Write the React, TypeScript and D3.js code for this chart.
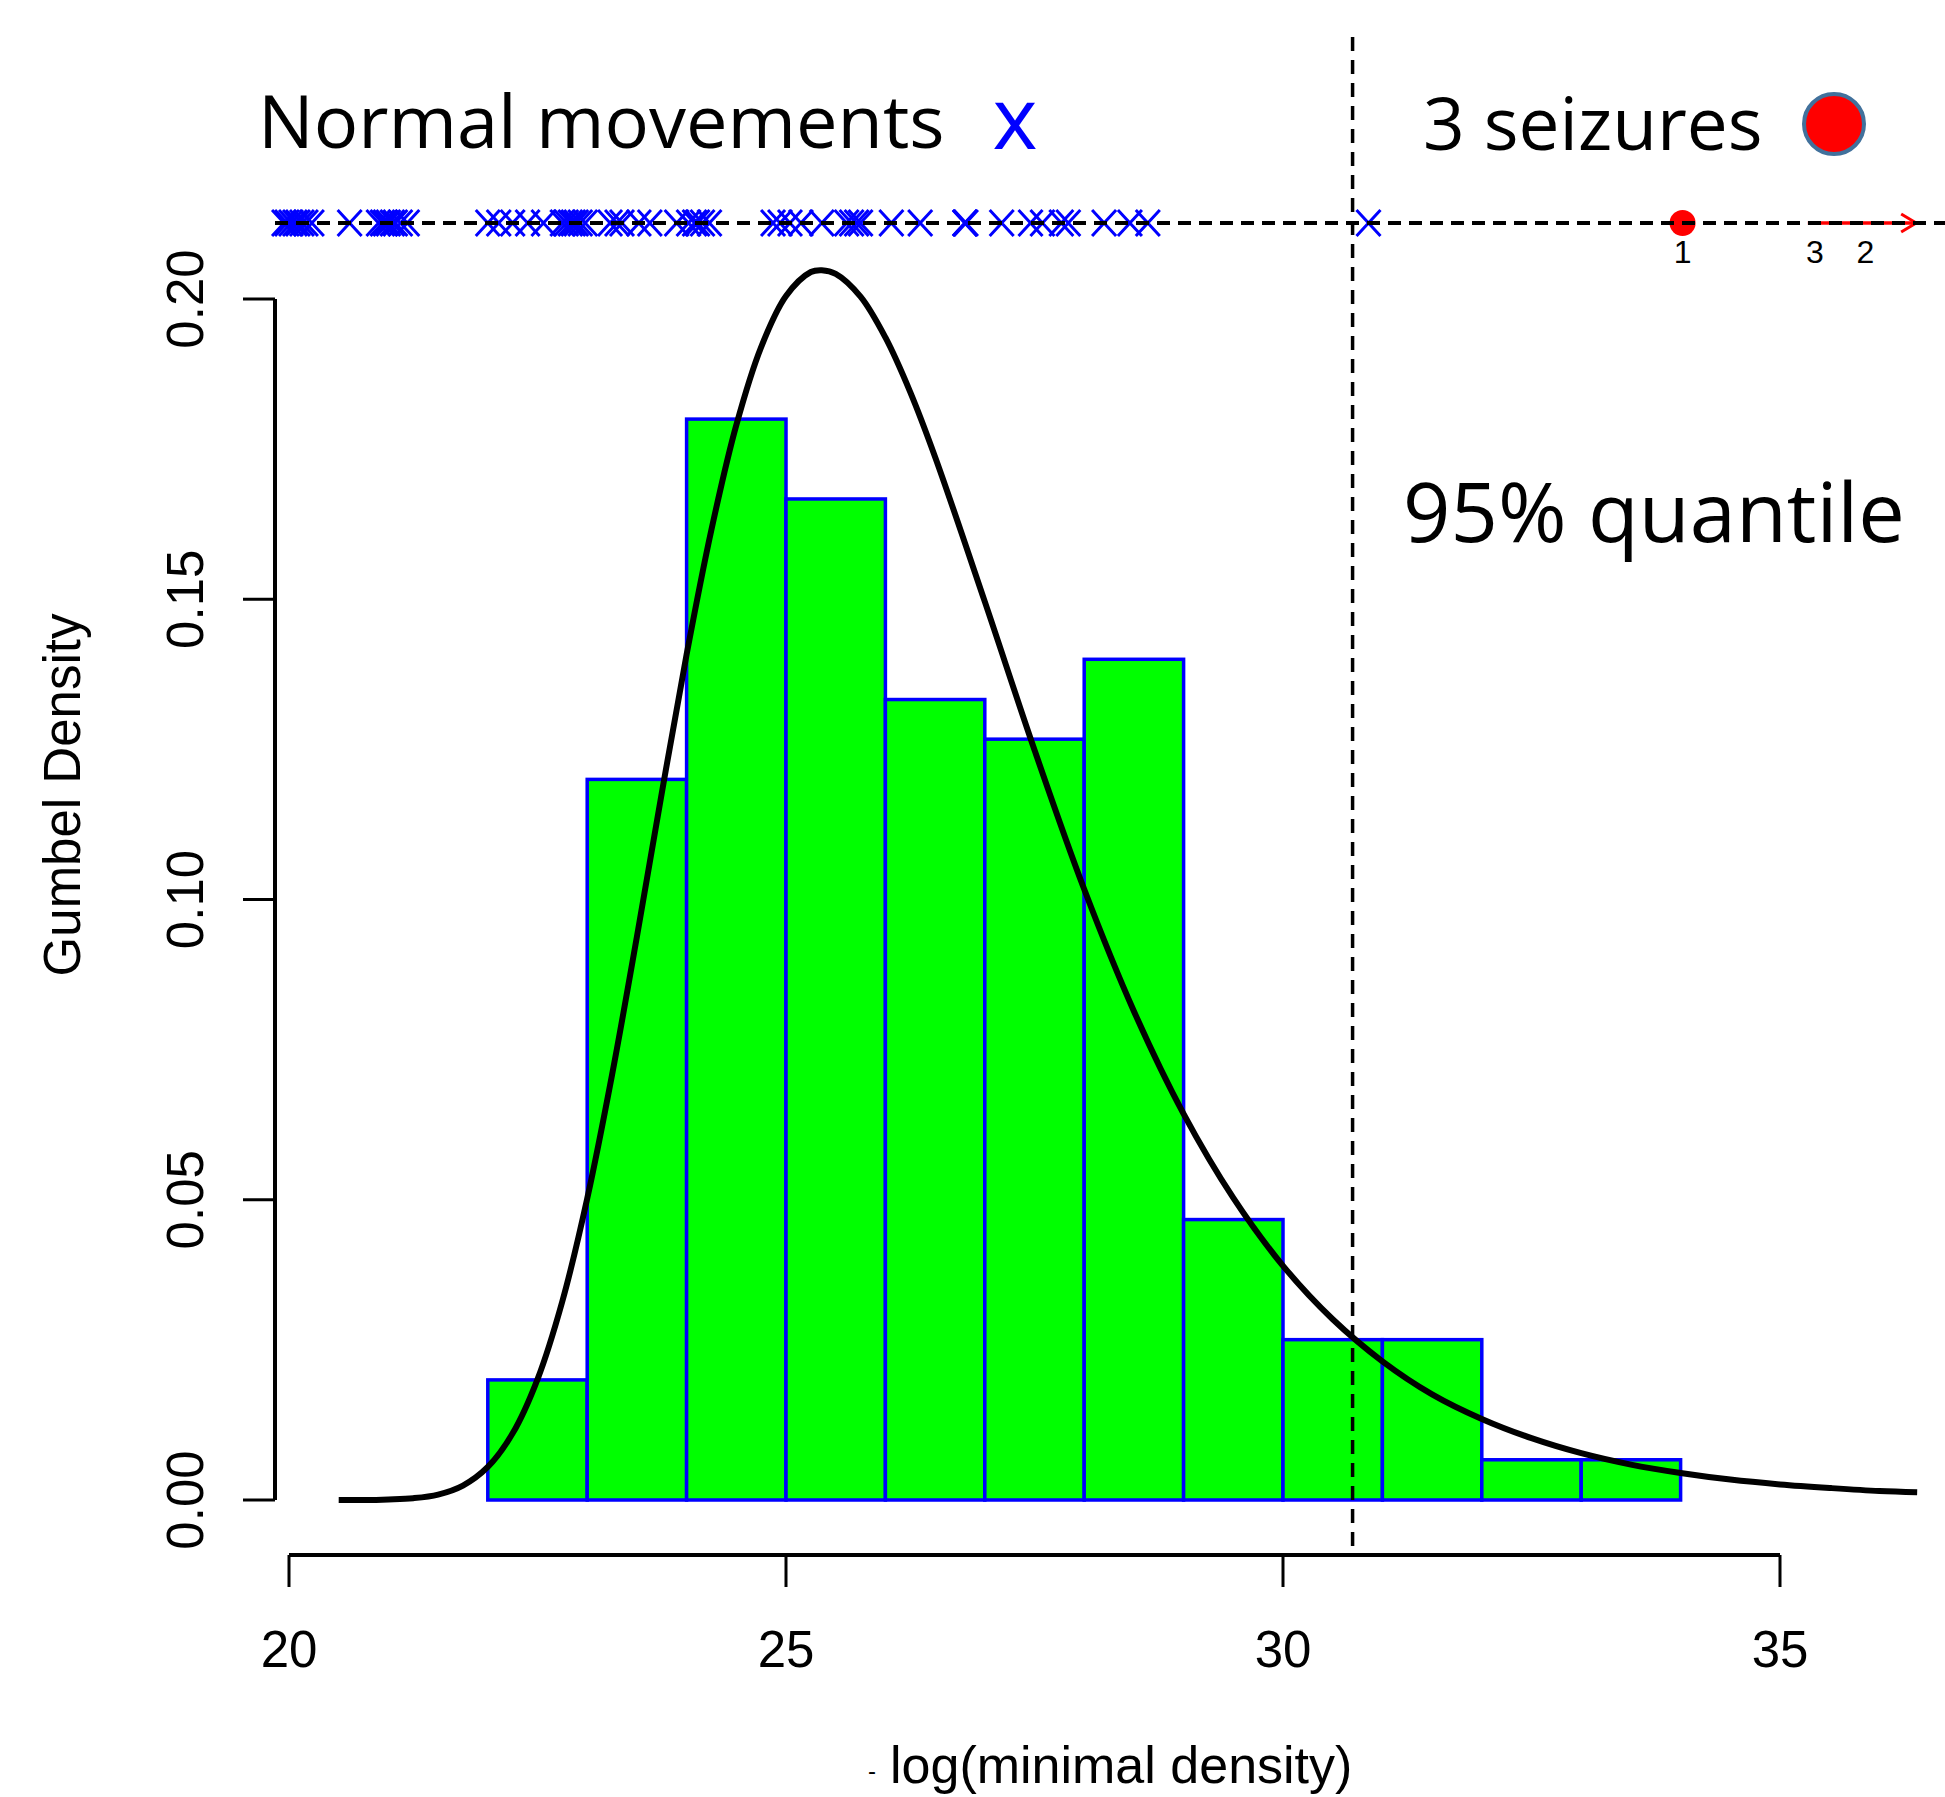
import React, { useEffect, useRef } from 'react';
import * as d3 from 'd3';

// histogram (density per unit bin)
const binStarts = [22, 23, 24, 25, 26, 27, 28, 29, 30, 31, 32, 33];
const binDensity = [0.02, 0.12, 0.18, 0.1667, 0.1333, 0.1267, 0.14, 0.0467, 0.0267, 0.0267, 0.0067, 0.0067];

// fitted Gumbel density
const curveX = [20.5, 20.75, 21, 21.25, 21.5, 21.75, 22, 22.25, 22.5, 22.75, 23, 23.25, 23.5, 23.75, 24, 24.25, 24.5, 24.75, 25, 25.25, 25.36, 25.5, 25.75, 26, 26.25, 26.5, 27, 27.5, 28, 28.5, 29, 29.5, 30, 30.5, 31, 31.5, 32, 32.5, 33, 33.5, 34, 34.5, 35, 35.5, 36, 36.38];
const curveY = [0.0, 0.0, 0.0001, 0.0003, 0.0009, 0.0024, 0.0055, 0.0111, 0.0201, 0.0331, 0.0502, 0.0708, 0.0938, 0.1177, 0.1408, 0.1616, 0.179, 0.192, 0.2005, 0.2045, 0.2048, 0.2042, 0.2004, 0.1936, 0.1845, 0.1737, 0.1496, 0.1249, 0.1017, 0.0814, 0.0643, 0.0503, 0.039, 0.0301, 0.0231, 0.0176, 0.0135, 0.0103, 0.0078, 0.0059, 0.0045, 0.0034, 0.0026, 0.002, 0.0015, 0.0013];

// normal movements (blue crosses on the top strip)
const normalMoves = [19.95, 19.98, 20.02, 20.06, 20.09, 20.13, 20.17, 20.23, 20.61, 20.9, 20.94, 20.97, 21.0, 21.04, 21.07, 21.12, 21.19,
  22.0, 22.11, 22.25, 22.4, 22.56, 22.75, 22.79, 22.83, 22.86, 22.89, 22.93, 22.98, 23.23, 23.3, 23.35, 23.52, 23.63,
  23.9, 24.02, 24.08, 24.11, 24.16, 24.23, 24.87, 24.94, 25.04, 25.15, 25.36, 25.61, 25.66, 25.71, 25.75, 26.06, 26.35,
  26.8, 26.8, 26.81, 27.17, 27.46, 27.58, 27.77, 27.84, 28.2, 28.46, 28.64, 30.86];

// seizures: one on scale, two beyond (arrow)
const seizureOn = [{ label: '1', x: 34.02 }];
const seizureOff = [{ label: '3', x: 35.35 }, { label: '2', x: 35.86 }];
const arrowRange = [35.28, 36.37];

const quantile95 = 30.7;
const xTicks = [20, 25, 30, 35];
const yTicks = [0, 0.05, 0.1, 0.15, 0.2];

const AXIS_FONT = '"Liberation Sans", Arial, sans-serif';
const NOTE_FONT = '"Open Sans", "Noto Sans", sans-serif';

export default function App() {
  const ref = useRef<SVGSVGElement>(null);

  useEffect(() => {
    const svg = d3.select(ref.current);
    svg.selectAll('*').remove();

    const x = d3.scaleLinear().domain([20, 35]).range([289, 1780]);
    const y = d3.scaleLinear().domain([0, 0.2]).range([1500, 299]);
    const stripY = 223;

    // histogram bars
    svg.append('g')
      .selectAll('rect')
      .data(binStarts)
      .join('rect')
      .attr('x', (d) => x(d))
      .attr('y', (d, i) => y(binDensity[i]))
      .attr('width', (d) => x(d + 1) - x(d))
      .attr('height', (d, i) => y(0) - y(binDensity[i]))
      .attr('fill', '#00ff00')
      .attr('stroke', '#0000ff')
      .attr('stroke-width', 3.5);

    // gumbel curve
    const pts = curveX.map((v, i) => [v, curveY[i]] as [number, number]);
    svg.append('path')
      .datum(pts)
      .attr('fill', 'none')
      .attr('stroke', '#000')
      .attr('stroke-width', 6)
      .attr('d', d3.line<[number, number]>()
        .x((d) => x(d[0]))
        .y((d) => y(d[1]))
        .curve(d3.curveCatmullRom));

    // y axis
    const ya = svg.append('g');
    ya.append('line')
      .attr('x1', 275).attr('x2', 275)
      .attr('y1', y(0)).attr('y2', y(0.2))
      .attr('stroke', '#000').attr('stroke-width', 4);
    yTicks.forEach((t) => {
      ya.append('line')
        .attr('x1', 243).attr('x2', 275)
        .attr('y1', y(t)).attr('y2', y(t))
        .attr('stroke', '#000').attr('stroke-width', 3);
      ya.append('text')
        .attr('transform', `translate(203,${y(t)}) rotate(-90)`)
        .attr('text-anchor', 'middle')
        .style('font-family', AXIS_FONT)
        .style('font-size', '51px')
        .text(t.toFixed(2));
    });
    svg.append('text')
      .attr('transform', `translate(80,795) rotate(-90)`)
      .attr('text-anchor', 'middle')
      .style('font-family', AXIS_FONT)
      .style('font-size', '51px')
      .text('Gumbel Density');

    // x axis
    const xa = svg.append('g');
    xa.append('line')
      .attr('x1', x(20)).attr('x2', x(35))
      .attr('y1', 1555).attr('y2', 1555)
      .attr('stroke', '#000').attr('stroke-width', 4);
    xTicks.forEach((t) => {
      xa.append('line')
        .attr('x1', x(t)).attr('x2', x(t))
        .attr('y1', 1555).attr('y2', 1587)
        .attr('stroke', '#000').attr('stroke-width', 3);
      xa.append('text')
        .attr('x', x(t)).attr('y', 1667)
        .attr('text-anchor', 'middle')
        .style('font-family', AXIS_FONT)
        .style('font-size', '51px')
        .text(String(t));
    });
    const xl = svg.append('text')
      .attr('x', 868).attr('y', 1783)
      .style('font-family', AXIS_FONT)
      .style('font-size', '52px');
    xl.append('tspan').style('font-size', '24px').attr('dy', -4).text('-');
    xl.append('tspan').attr('x', 890).attr('dy', 4).text('log(minimal density)');

    // 95% quantile line
    svg.append('line')
      .attr('x1', x(quantile95)).attr('x2', x(quantile95))
      .attr('y1', 37).attr('y2', 1555)
      .attr('stroke', '#000').attr('stroke-width', 3.5)
      .attr('stroke-dasharray', '14 9');
    svg.append('text')
      .attr('x', 1403).attr('y', 542)
      .style('font-family', NOTE_FONT)
      .style('font-size', '83px')
      .text('95% quantile');

    // top strip: seizures arrow + points
    const arrowEnd = x(arrowRange[1]);
    svg.append('line')
      .attr('x1', x(arrowRange[0])).attr('x2', arrowEnd)
      .attr('y1', stripY).attr('y2', stripY)
      .attr('stroke', '#ff0000').attr('stroke-width', 3.5);
    svg.append('path')
      .attr('d', `M${arrowEnd - 15},${stripY - 9}L${arrowEnd},${stripY}L${arrowEnd - 15},${stripY + 9}`)
      .attr('fill', 'none')
      .attr('stroke', '#ff0000').attr('stroke-width', 3);
    svg.append('g')
      .selectAll('circle')
      .data(seizureOn)
      .join('circle')
      .attr('cx', (d) => x(d.x)).attr('cy', stripY)
      .attr('r', 13)
      .attr('fill', '#ff0000');
    svg.append('g')
      .selectAll('text')
      .data([...seizureOn, ...seizureOff])
      .join('text')
      .attr('x', (d) => x(d.x)).attr('y', 263)
      .attr('text-anchor', 'middle')
      .style('font-family', AXIS_FONT)
      .style('font-size', '32px')
      .text((d) => d.label);

    // normal movements crosses
    svg.append('g')
      .selectAll('path')
      .data(normalMoves)
      .join('path')
      .attr('d', (d) => {
        const cx = x(d);
        return `M${cx - 12},${stripY - 13}L${cx + 12},${stripY + 13}M${cx - 12},${stripY + 13}L${cx + 12},${stripY - 13}`;
      })
      .attr('stroke', '#0000ff')
      .attr('stroke-width', 3)
      .attr('fill', 'none');

    // dashed strip line on top
    svg.append('line')
      .attr('x1', 275).attr('x2', 1945)
      .attr('y1', stripY).attr('y2', stripY)
      .attr('stroke', '#000').attr('stroke-width', 4)
      .attr('stroke-dasharray', '13 8');

    // legend-like annotations
    svg.append('text')
      .attr('x', 258).attr('y', 148)
      .style('font-family', NOTE_FONT)
      .style('font-size', '74px')
      .text('Normal movements');
    svg.append('text')
      .attr('x', 1015).attr('y', 149)
      .attr('text-anchor', 'middle')
      .style('font-family', NOTE_FONT)
      .style('font-size', '86px')
      .attr('fill', '#0000ff')
      .text('x');
    svg.append('text')
      .attr('x', 1423).attr('y', 150)
      .style('font-family', NOTE_FONT)
      .style('font-size', '73px')
      .text('3 seizures');
    svg.append('circle')
      .attr('cx', 1834).attr('cy', 124)
      .attr('r', 30)
      .attr('fill', '#ff0000')
      .attr('stroke', '#41719c')
      .attr('stroke-width', 4);
  }, []);

  return (
    <svg
      ref={ref}
      width={1945}
      height={1797}
      style={{ position: 'absolute', left: 0, top: 0, background: '#fff' }}
    />
  );
}
